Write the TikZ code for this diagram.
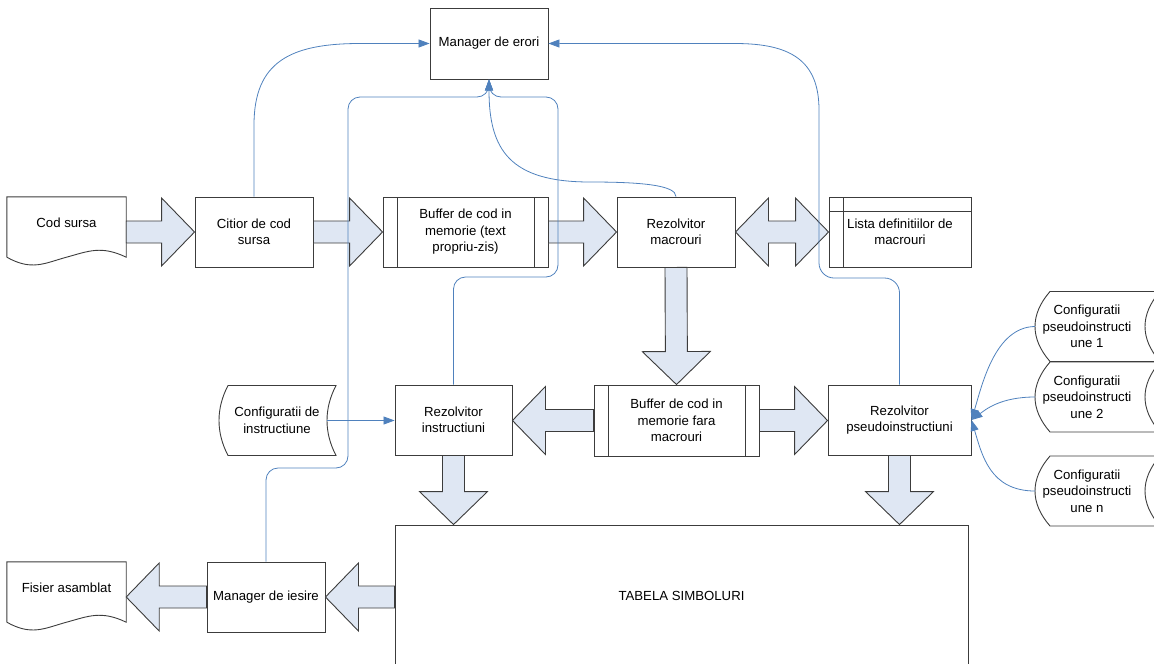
\documentclass[tikz,border=0pt]{standalone}
\usepackage{fontspec}
\setmainfont{Liberation Sans}
\usetikzlibrary{positioning, arrows.meta, calc}
\definecolor{BoxGray}{RGB}{60, 60, 60}
\definecolor{ArrowFill}{RGB}{223, 231, 243}
\definecolor{LinkBlue}{RGB}{79, 129, 189}

\tikzset{
  box/.style={draw=BoxGray, line width=0.9pt, align=center, minimum width=118pt, minimum height=70pt, inner sep=1pt},
  bufbox/.style={box, minimum width=165pt, minimum height=71pt, path picture={
      \draw[BoxGray, line width=0.9pt] ([xshift=14pt]path picture bounding box.north west) -- ([xshift=14pt]path picture bounding box.south west);
      \draw[BoxGray, line width=0.9pt] ([xshift=-14pt]path picture bounding box.north east) -- ([xshift=-14pt]path picture bounding box.south east);}},
  listbox/.style={box, minimum width=142pt, path picture={
      \draw[BoxGray, line width=0.9pt] ([xshift=14pt]path picture bounding box.north west) -- ([xshift=14pt]path picture bounding box.south west);
      \draw[BoxGray, line width=0.9pt] ([yshift=-14pt]path picture bounding box.north west) -- ([yshift=-14pt]path picture bounding box.north east);}},
  shapetext/.style={align=center, inner sep=0pt},
  boxline/.style={draw=BoxGray, line width=0.9pt},
  blockarrow/.style={draw=BoxGray, line width=0.9pt, fill=ArrowFill, line join=miter},
  errline/.style={LinkBlue, line width=0.8pt, -{Triangle[length=11pt, width=8pt]}},
}

% wide hollow arrow from #1 to #2
\newcommand{\blockarr}[2]{%
  \path (#1) coordinate (ba-s) (#2) coordinate (ba-e);
  \coordinate (ba-h) at ($(ba-e)!33pt!(ba-s)$);
  \draw[blockarrow] ($(ba-s)!11pt!90:(ba-e)$) -- ($(ba-h)!11pt!-90:(ba-s)$) -- ($(ba-h)!34pt!-90:(ba-s)$)
    -- (ba-e) -- ($(ba-h)!34pt!90:(ba-s)$) -- ($(ba-h)!11pt!90:(ba-s)$) -- ($(ba-s)!11pt!-90:(ba-e)$) -- cycle;}

% document outline with wavy bottom
\newcommand{\docshape}[1]{%
  \draw[boxline] ($(#1.south west)+(0,8)$) -- (#1.north west) -- (#1.north east) -- ($(#1.south east)+(0,8)$)
    .. controls ($(#1.south east)+(-25,-4)$) and ($(#1.south)+(22,2)$) .. ($(#1.south)+(0,8)$)
    .. controls ($(#1.south)+(-22,14)$) and ($(#1.south west)+(25,22)$) .. ($(#1.south west)+(0,8)$);}

% stored data outline: node, left offset, right offset, bulge
\newcommand{\storedshape}[4]{%
  \draw[boxline] ($(#1)+(#2,-35)$) -- ($(#1)+(#3,-35)$)
    .. controls ($(#1)+(#3-#4,-12)$) and ($(#1)+(#3-#4,12)$) .. ($(#1)+(#3,35)$)
    -- ($(#1)+(#2,35)$)
    .. controls ($(#1)+(#2-#4,12)$) and ($(#1)+(#2-#4,-12)$) .. cycle;
  \coordinate (#1-in) at ($(#1)+(#2-0.75*#4,0)$);
  \coordinate (#1-out) at ($(#1)+(#3-0.75*#4,0)$);}

\begin{document}
\begin{tikzpicture}[x=1pt, y=-1pt, font=\fontsize{13.2}{16.5}\selectfont]
    \useasboundingbox (0,0) rectangle (1154,664);

    % top row
    \node[box, minimum height=71pt] (merr) at (489,43.5) {Manager de erori};
    \node[shapetext, minimum width=119pt, minimum height=52pt] (cod) at (66.5,223) {Cod sursa};
    \docshape{cod}
    \node[box] (citior) at (254,232) {Citior de cod\\sursa};
    \node[bufbox, minimum height=70pt] (buf1) at (465.5,232) {Buffer de cod in\\memorie (text\\propriu-zis)};
    \node[box] (rmac) at (676,232) {Rezolvitor\\macrouri};
    \node[listbox] (lista) at (900,232) {Lista definitiilor de\\macrouri};

    \blockarr{cod.east |- citior.west}{citior.west}
    \blockarr{citior.east}{buf1.west}
    \blockarr{buf1.east}{rmac.west}
    \draw[blockarrow] (rmac.east) -- ++(33,-34) -- ++(0,23) -- ($(lista.west)+(-33,-11)$) -- ++(0,-23)
      -- (lista.west) -- ++(-33,34) -- ++(0,-23) -- ($(rmac.east)+(33,11)$) -- ++(0,23) -- cycle;

    % middle row
    \node[shapetext] (cfg) at (277,420.5) {Configuratii de\\instructiune};
    \storedshape{cfg}{-49}{59}{12}
    \node[box, minimum width=117pt] (rinst) at (453.5,420) {Rezolvitor\\instructiuni};
    \node[bufbox] (buf2) at (676.5,420.5) {Buffer de cod in\\memorie fara\\macrouri};
    \node[box, minimum width=143pt] (rpseudo) at (899.5,420) {Rezolvitor\\pseudoinstructiuni};

    \blockarr{rmac.south}{buf2.north}
    \blockarr{buf2.west}{buf2.west -| rinst.east}
    \blockarr{buf2.east}{buf2.east -| rpseudo.west}

    % pseudoinstruction configurations
    \node[shapetext] (cp1) at (1087,326.5) {Configuratii\\pseudoinstructi\\une 1};
    \node[shapetext] (cp2) at (1087,397) {Configuratii\\pseudoinstructi\\une 2};
    \node[shapetext] (cp3) at (1087,491) {Configuratii\\pseudoinstructi\\une n};
    \storedshape{cp1}{-37}{73}{20}
    \storedshape{cp2}{-37}{73}{20}
    \storedshape{cp3}{-37}{73}{20}

    % bottom row
    \node[box, minimum width=573pt, minimum height=141pt] (tabela) at (681.5,595.5) {TABELA SIMBOLURI};
    \node[box] (miesire) at (266,597) {Manager de iesire};
    \node[shapetext, minimum width=119pt, minimum height=52pt] (fisier) at (66.5,588) {Fisier asamblat};
    \docshape{fisier}

    \blockarr{rinst.south}{rinst.south |- tabela.north}
    \blockarr{rpseudo.south}{rpseudo.south |- tabela.north}
    \blockarr{tabela.west |- miesire.east}{miesire.east}
    \blockarr{miesire.west}{fisier.east |- miesire.west}

    % error and configuration links
    \draw[errline] (cfg-out) -- (cfg-out -| rinst.west);
    \draw[errline] (cp1-in) .. controls (995,327) and (982,385) .. (rpseudo.east);
    \draw[errline] (cp2-in) .. controls (1000,397) and (985,410) .. (rpseudo.east);
    \draw[errline] (cp3-in) .. controls (990,491) and (982,455) .. (rpseudo.east);

    \draw[errline] (citior.north) -- (254,125) .. controls (254,62) and (290,43.5) .. (360,43.5) -- (merr.west);
    \draw[errline] (rmac.north) .. controls (676,185) and (640,182) .. (590,182) .. controls (510,182) and (489,150) .. (merr.south);
    \draw[errline, rounded corners=12pt] (rinst.north) |- (558,277) |- (489,97) -- (merr.south);
    \draw[errline, rounded corners=12pt] (miesire.north) |- (348,468) |- (489,97) -- (merr.south);
    \draw[errline, rounded corners=15pt] (rpseudo.north) |- (819,278) -- (819,125) .. controls (819,60) and (790,43.5) .. (720,43.5) -- (merr.east);
  \end{tikzpicture}
\end{document}
